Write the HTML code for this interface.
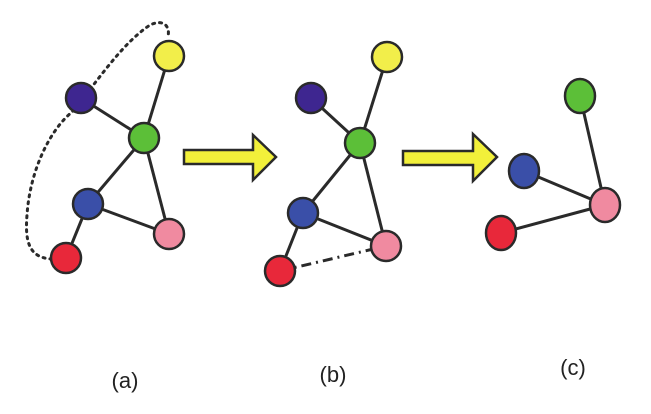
<!DOCTYPE html>
<html><head><style>body{margin:0;background:#fff}</style></head><body>
<svg width="651" height="409" xmlns="http://www.w3.org/2000/svg" font-family="Liberation Sans, sans-serif">
<g stroke="#2a2a2a" stroke-width="3" fill="none">
<path d="M52,259 C28,258 25,240 27,215 C30,170 50,130 72,112 C95,85 120,45 150,25 C165,18 170,28 168,36" stroke-dasharray="2,5" stroke-linecap="round" stroke-width="3"/>
<line x1="81" y1="98" x2="144" y2="138"/><line x1="169" y1="56" x2="144" y2="138"/>
<line x1="144" y1="138" x2="88" y2="204"/><line x1="144" y1="138" x2="169" y2="234"/>
<line x1="88" y1="204" x2="169" y2="234"/><line x1="88" y1="204" x2="66" y2="258"/>
<line x1="311" y1="98" x2="360" y2="143"/><line x1="387" y1="57" x2="360" y2="143"/>
<line x1="360" y1="143" x2="303" y2="213"/><line x1="360" y1="143" x2="386" y2="246"/>
<line x1="303" y1="213" x2="386" y2="246"/><line x1="303" y1="213" x2="280" y2="271"/>
<line x1="280" y1="271" x2="386" y2="246" stroke-dasharray="10,5,2,5"/>
<line x1="580" y1="96" x2="605" y2="205"/><line x1="524" y1="171" x2="605" y2="205"/>
<line x1="501" y1="233" x2="605" y2="205"/>
</g>
<g stroke="#2a2a2a" stroke-width="2.5">
<circle cx="169" cy="56" r="15" fill="#f2ee4a"/><circle cx="81" cy="98" r="15" fill="#3e2690"/>
<circle cx="144" cy="138" r="15" fill="#5cbf38"/><circle cx="88" cy="204" r="15" fill="#3a4fa8"/>
<circle cx="169" cy="234" r="15" fill="#f08aa0"/><circle cx="66" cy="258" r="15" fill="#e8283a"/>
<circle cx="387" cy="57" r="15" fill="#f2ee4a"/><circle cx="311" cy="98" r="15" fill="#3e2690"/>
<circle cx="360" cy="143" r="15" fill="#5cbf38"/><circle cx="303" cy="213" r="15" fill="#3a4fa8"/>
<circle cx="386" cy="246" r="15" fill="#f08aa0"/><circle cx="280" cy="271" r="15" fill="#e8283a"/>
<ellipse cx="580" cy="96" rx="15" ry="17" fill="#5cbf38"/><ellipse cx="524" cy="171" rx="15" ry="17" fill="#3a4fa8"/>
<ellipse cx="605" cy="205" rx="15" ry="17" fill="#f08aa0"/><ellipse cx="501" cy="233" rx="15" ry="17" fill="#e8283a"/>
<path d="M184,150 H253 V135 L276,157 L253,180 V164 H184 Z" fill="#f2f03a"/>
<path d="M403,151 H473 V134 L497,157 L473,181 V165 H403 Z" fill="#f2f03a"/>
</g>
<g font-size="22" fill="#222" text-anchor="middle">
<text x="125" y="388">(a)</text><text x="333" y="382">(b)</text><text x="573" y="375">(c)</text>
</g>
</svg>
</body></html>
